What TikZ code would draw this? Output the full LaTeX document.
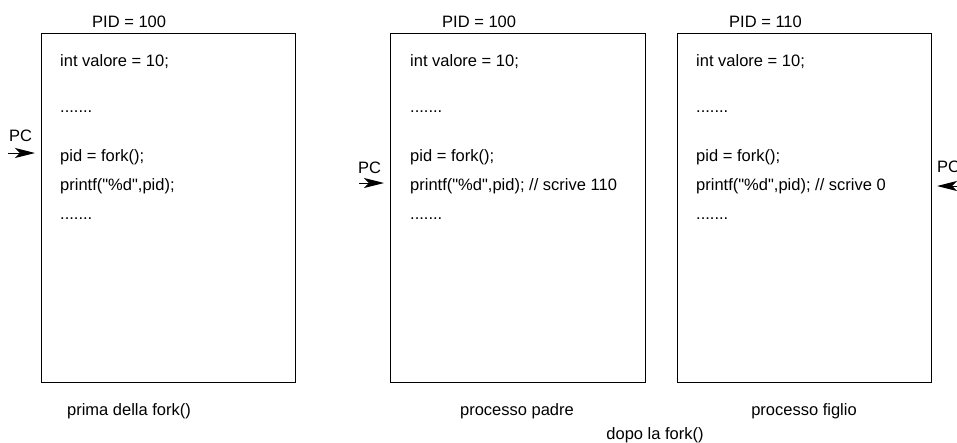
\documentclass[tikz,border=0pt]{standalone}
\usepackage{fontspec}
\setmainfont{Liberation Sans}[Ligatures=TeXOff]
\usetikzlibrary{arrows.meta}
\begin{document}
\begin{tikzpicture}[x=1pt,y=-1pt,
  proc/.style={draw, line width=1pt, inner sep=0pt, anchor=north west, minimum height=349pt},
  txt/.style={inner sep=0pt, font=\fontsize{16.5}{20}\selectfont},
  code/.style={txt, anchor=base west},
  lab/.style={txt, anchor=base},
  pcarrow/.style={line width=1pt, -{Stealth[length=20pt,width=10pt,inset=5pt]}}]
\useasboundingbox (0,0) rectangle (957,442);
% boxes
\node[proc, minimum width=254pt] (b1) at (41,33) {};
\node[proc, minimum width=255pt] (b2) at (390,33) {};
\node[proc, minimum width=254pt] (b3) at (677,33) {};
% PID labels
\node[code] (pid1) at (92,27) {PID = 100};
\node[code] (pid2) at (442,27) {PID = 100};
\node[code] (pid3) at (729,27) {PID = 110};
% box 1 code
\node[code] (a1) at (60,66) {int valore = 10;};
\node[code] (a2) at (60,112) {.......};
\node[code] (a3) at (60,161) {pid = fork();};
\node[code] (a4) at (60,190) {printf("\%d",pid);};
\node[code] (a5) at (60,219) {.......};
% box 2 code
\node[code] (c1) at (410,66) {int valore = 10;};
\node[code] (c2) at (410,112) {.......};
\node[code] (c3) at (410,161) {pid = fork();};
\node[code] (c4) at (410,190) {printf("\%d",pid); // scrive 110};
\node[code] (c5) at (410,219) {.......};
% box 3 code
\node[code] (d1) at (696,66) {int valore = 10;};
\node[code] (d2) at (696,112) {.......};
\node[code] (d3) at (696,161) {pid = fork();};
\node[code] (d4) at (696,190) {printf("\%d",pid); // scrive 0};
\node[code] (d5) at (696,219) {.......};
% program counters
\node[code] (pc1) at (9,141) {PC};
\coordinate (pc1s) at (8,153);
\coordinate (pc1e) at (35,153);
\draw[pcarrow] (pc1s) -- (pc1e);
\node[code] (pc2) at (358,173) {PC};
\coordinate (pc2s) at (359,183);
\coordinate (pc2e) at (384,183);
\draw[pcarrow] (pc2s) -- (pc2e);
\node[code] (pc3) at (937,172) {PC};
\coordinate (pc3s) at (964,186);
\coordinate (pc3e) at (937,186);
\draw[pcarrow] (pc3s) -- (pc3e);
% captions
\node[lab] (cap1) at (129,415) {prima della fork()};
\node[lab] (cap2) at (517,415) {processo padre};
\node[lab] (cap3) at (804,415) {processo figlio};
\node[lab] (cap4) at (655,439) {dopo la fork()};
\end{tikzpicture}
\end{document}
